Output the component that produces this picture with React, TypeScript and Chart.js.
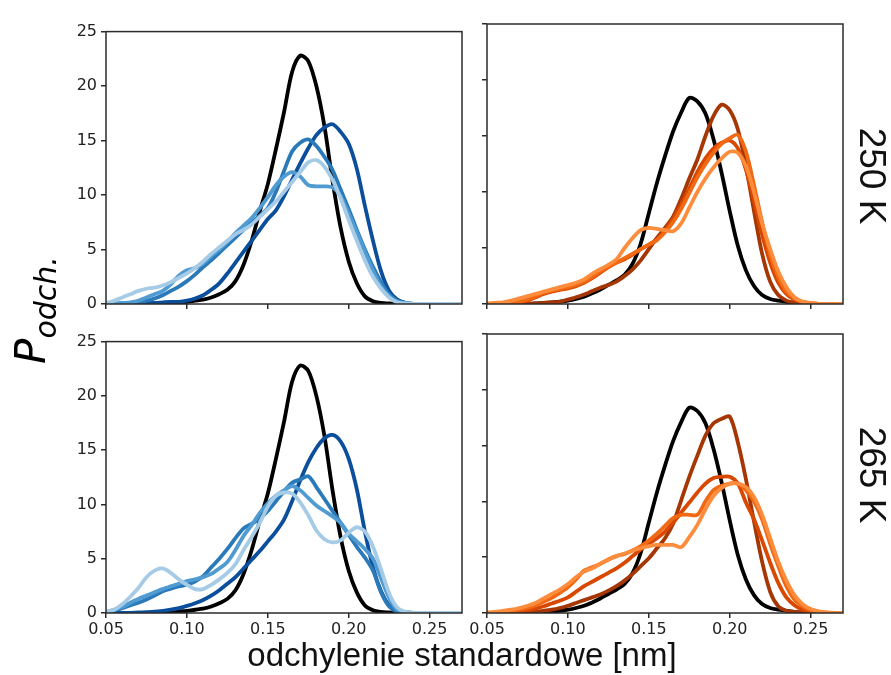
import React, { useEffect, useRef } from "react";
import { Chart, registerables } from "chart.js";

Chart.register(...registerables);

// x grid (standard deviation, nm)
const X_NM = [
  0.050, 0.055, 0.060, 0.065, 0.070, 0.075, 0.080, 0.085, 0.090, 0.095,
  0.100, 0.105, 0.110, 0.115, 0.120, 0.125, 0.130, 0.135, 0.140, 0.145,
  0.150, 0.155, 0.160, 0.165, 0.170, 0.175, 0.180, 0.185, 0.190, 0.195,
  0.200, 0.205, 0.210, 0.215, 0.220, 0.225, 0.230, 0.235, 0.240, 0.245,
  0.250, 0.255, 0.260, 0.265, 0.270,
];

const X_TICKS = [0.05, 0.1, 0.15, 0.2, 0.25];
const Y_TICKS = [0, 5, 10, 15, 20, 25];
const ROW_LABELS = ["250 K", "265 K"];
const X_TITLE = "odchylenie standardowe [nm]";

// reference (black) curves
const blackLeft = [
  0, 0, 0, 0, 0, 0, 0, 0.05, 0.1, 0.15,
  0.2, 0.3, 0.4, 0.6, 0.9, 1.3, 2.1, 3.6, 5.8, 8.5,
  11.0, 14.2, 17.6, 21.3, 22.8, 22.3, 20.0, 16.3, 11.3, 7.0,
  3.9, 1.9, 0.7, 0.25, 0.1, 0.05, 0, 0, 0, 0,
  0, 0, 0, 0, 0,
];
const blackRight = [
  0, 0, 0, 0, 0, 0.02, 0.05, 0.1, 0.15, 0.2,
  0.3, 0.45, 0.65, 0.95, 1.3, 1.7, 2.1, 2.6, 3.6, 5.4,
  8.1, 10.8, 13.2, 15.4, 17.1, 18.4, 18.1, 17.0, 14.7, 11.7,
  8.3, 5.2, 3.0, 1.6, 0.8, 0.45, 0.3, 0.2, 0.1, 0.05,
  0, 0, 0, 0, 0,
];

// 250 K, blue series (dark -> light)
const blue250a = [
  0, 0, 0, 0, 0.05, 0.1, 0.1, 0.15, 0.2, 0.2,
  0.3, 0.5, 0.8, 1.3, 1.9, 2.8, 3.8, 4.8, 5.8, 6.8,
  7.8, 8.6, 9.9, 11.4, 12.9, 14.3, 15.5, 16.2, 16.5, 15.8,
  14.7, 12.4, 9.0, 5.8, 3.0, 1.2, 0.4, 0.1, 0, 0,
  0, 0, 0, 0, 0,
];
const blue250b = [
  0, 0, 0.05, 0.1, 0.2, 0.3, 0.5, 0.8, 1.2, 1.6,
  2.1, 2.7, 3.4, 4.0, 4.7, 5.4, 6.1, 6.8, 7.5, 8.1,
  8.8, 10.3, 12.2, 14.0, 14.8, 15.1, 14.5, 13.5, 12.3, 10.5,
  8.7, 6.8, 5.0, 3.4, 2.0, 0.9, 0.3, 0.1, 0, 0,
  0, 0, 0, 0, 0,
];
const blue250c = [
  0, 0.05, 0.1, 0.15, 0.3, 0.6, 0.9, 1.2, 1.8, 2.6,
  3.1, 3.3, 3.7, 4.4, 5.0, 5.7, 6.5, 7.2, 7.9, 8.8,
  9.8, 10.9, 11.7, 12.1, 11.7, 10.9, 10.8, 10.8, 10.7, 9.9,
  8.3, 6.6, 4.8, 3.1, 1.6, 0.7, 0.2, 0.05, 0, 0,
  0, 0, 0, 0, 0,
];
const blue250d = [
  0.1, 0.3, 0.6, 0.9, 1.2, 1.4, 1.5, 1.7, 2.0, 2.4,
  2.8, 3.3, 3.9, 4.6, 5.2, 5.8, 6.4, 6.8, 7.3, 8.0,
  8.7, 9.4, 10.3, 11.2, 12.1, 13.0, 13.2, 12.6, 11.4, 9.7,
  7.7, 5.8, 4.0, 2.5, 1.4, 0.6, 0.15, 0.05, 0, 0,
  0, 0, 0, 0, 0,
];

// 250 K, orange series (dark -> light)
const orange250a = [
  0, 0, 0, 0, 0, 0.02, 0.05, 0.1, 0.15, 0.2,
  0.4, 0.6, 0.85, 1.15, 1.45, 1.7, 2.0, 2.5, 3.1, 3.9,
  4.9, 5.9, 6.8, 7.8, 9.4, 11.2, 12.9, 15.0, 16.8, 17.8,
  17.3, 15.6, 12.3, 8.3, 4.5, 2.0, 0.8, 0.3, 0.1, 0.05,
  0, 0, 0, 0, 0,
];
const orange250b = [
  0, 0, 0.02, 0.05, 0.1, 0.3, 0.6, 0.9, 1.1, 1.25,
  1.4, 1.6, 1.9, 2.3, 2.8, 3.3, 3.7, 4.0, 4.4, 4.9,
  5.3, 5.8, 6.6, 7.6, 8.9, 10.3, 11.8, 13.0, 13.9, 14.4,
  14.6, 13.9, 12.0, 9.2, 6.2, 3.7, 1.9, 0.9, 0.4, 0.15,
  0.05, 0, 0, 0, 0,
];
const orange250c = [
  0, 0.02, 0.05, 0.1, 0.2, 0.4, 0.7, 1.0, 1.2, 1.35,
  1.5, 1.7, 2.0, 2.4, 2.9, 3.3, 3.7, 4.1, 4.5, 4.9,
  5.3, 5.7, 6.4, 7.3, 8.5, 9.9, 11.3, 12.5, 13.5, 14.3,
  14.8, 15.1, 13.6, 10.6, 7.3, 4.4, 2.4, 1.1, 0.5, 0.2,
  0.08, 0.02, 0, 0, 0,
];
const orange250d = [
  0.05, 0.1, 0.15, 0.3, 0.5, 0.7, 0.9, 1.1, 1.3, 1.5,
  1.7, 1.9, 2.2, 2.7, 3.1, 3.5, 4.0, 5.0, 5.9, 6.6,
  6.8, 6.7, 6.6, 6.5, 7.2, 8.6, 10.0, 11.2, 12.2, 13.0,
  13.6, 13.5, 12.3, 10.0, 7.2, 4.9, 2.9, 1.5, 0.6, 0.2,
  0.08, 0.02, 0, 0, 0,
];

// 265 K, blue series (dark -> light)
const blue265a = [
  0, 0, 0, 0.02, 0.05, 0.08, 0.12, 0.2, 0.3, 0.45,
  0.65, 0.9, 1.2, 1.6, 2.1, 2.7, 3.3, 4.1, 4.9, 5.7,
  6.6, 7.5, 8.6, 10.3, 12.2, 13.9, 15.2, 16.1, 16.4, 15.8,
  14.2, 11.4, 7.5, 4.2, 2.0, 0.7, 0.15, 0.05, 0, 0,
  0, 0, 0, 0, 0,
];
const blue265b = [
  0.05, 0.25, 0.45, 0.7, 0.95, 1.25, 1.6, 2.0, 2.25, 2.45,
  2.6, 2.9, 3.4, 4.2, 5.0, 5.9, 6.9, 7.8, 8.2, 8.7,
  9.4, 10.3, 11.2, 12.0, 12.3, 12.6, 11.6, 10.5, 9.4, 8.3,
  7.2, 6.1, 5.1, 3.9, 1.9, 0.6, 0.15, 0.05, 0, 0,
  0, 0, 0, 0, 0,
];
const blue265c = [
  0.1, 0.3, 0.55, 0.95, 1.3, 1.6, 1.9, 2.2, 2.45, 2.7,
  2.95, 3.1, 3.3, 3.6, 4.1, 4.7, 5.8, 7.1, 8.1, 9.2,
  10.1, 10.8, 11.3, 11.7, 11.3, 10.6, 9.9, 9.4, 8.9, 8.3,
  7.3, 6.6, 5.9, 5.0, 3.2, 1.4, 0.3, 0.05, 0, 0,
  0, 0, 0, 0, 0,
];
const blue265d = [
  0.1, 0.3, 0.8, 1.5, 2.3, 3.3, 3.9, 4.1, 3.7, 3.1,
  2.6, 2.2, 2.2, 2.6, 3.1, 3.7, 4.5, 5.8, 7.0, 8.3,
  9.8, 10.8, 11.1, 11.0, 10.2, 9.0, 7.6, 6.8, 6.5, 6.7,
  7.4, 7.9, 7.5, 6.1, 4.0, 1.8, 0.5, 0.1, 0, 0,
  0, 0, 0, 0, 0,
];

// 265 K, orange series (dark -> light)
const orange265a = [
  0, 0, 0, 0.02, 0.05, 0.08, 0.12, 0.2, 0.3, 0.45,
  0.65, 0.9, 1.15, 1.4, 1.65, 2.0, 2.4, 2.9, 3.5, 4.2,
  4.9, 5.8, 6.7, 8.0, 10.1, 12.2, 14.1, 15.9, 17.0, 17.4,
  17.6, 15.3, 12.0, 8.2, 4.6, 1.9, 0.6, 0.2, 0.1, 0.05,
  0, 0, 0, 0, 0,
];
const orange265b = [
  0, 0.02, 0.05, 0.1, 0.15, 0.25, 0.4, 0.6, 0.85, 1.1,
  1.4, 1.9, 2.4, 2.8, 3.2, 3.6, 4.0, 4.5, 5.1, 5.7,
  6.2, 6.7, 7.3, 8.1, 9.0, 9.9, 10.8, 11.6, 12.1, 12.2,
  12.2, 11.6, 9.9, 8.4, 6.5, 4.5, 2.7, 1.4, 0.7, 0.3,
  0.12, 0.05, 0, 0, 0,
];
const orange265c = [
  0, 0.05, 0.1, 0.2, 0.3, 0.45, 0.7, 1.0, 1.35, 1.8,
  2.3, 3.0, 3.8, 4.1, 4.4, 4.8, 5.1, 5.3, 5.6, 6.0,
  6.5, 7.1, 7.8, 8.5, 8.8, 8.8, 8.8, 10.0, 11.0, 11.4,
  11.6, 11.6, 11.0, 10.0, 8.4, 6.2, 4.2, 2.4, 1.2, 0.6,
  0.25, 0.1, 0.03, 0, 0,
];
const orange265d = [
  0.05, 0.1, 0.2, 0.3, 0.45, 0.65, 0.9, 1.3, 1.7, 2.1,
  2.6, 3.2, 3.7, 4.0, 4.4, 4.8, 5.1, 5.3, 5.6, 5.8,
  6.0, 6.1, 6.1, 6.1, 5.9, 6.8, 7.9, 9.3, 10.5, 11.2,
  11.6, 11.6, 11.3, 10.4, 8.8, 6.7, 4.6, 2.9, 1.6, 0.8,
  0.35, 0.15, 0.05, 0, 0,
];

const BLUES = ["#0b4f9c", "#2a7aba", "#4f9bd2", "#a6cbe6"];
const ORANGES = ["#a63603", "#d94801", "#f16913", "#fd8d3c"];

type PanelSpec = {
  key: string;
  left: number; // chart area left (page px)
  top: number; // chart area top
  w: number;
  h: number;
  black: number[];
  series: number[][];
  colors: string[];
  showY: boolean;
  showX: boolean;
};

const PAD_L = 50;
const PAD_B = 36;
const PAD_T = 6;
const PAD_R = 6;

const PANELS: PanelSpec[] = [
  { key: "tl", left: 106, top: 24, w: 356, h: 280, black: blackLeft, series: [blue250a, blue250b, blue250c, blue250d], colors: BLUES, showY: true, showX: false },
  { key: "tr", left: 487, top: 24, w: 356, h: 280, black: blackRight, series: [orange250a, orange250b, orange250c, orange250d], colors: ORANGES, showY: false, showX: false },
  { key: "bl", left: 106, top: 334, w: 356, h: 279, black: blackLeft, series: [blue265a, blue265b, blue265c, blue265d], colors: BLUES, showY: true, showX: true },
  { key: "br", left: 487, top: 334, w: 356, h: 279, black: blackRight, series: [orange265a, orange265b, orange265c, orange265d], colors: ORANGES, showY: false, showX: true },
];

const framePlugin = {
  id: "frame",
  afterDraw(chart: any) {
    const { ctx, chartArea } = chart;
    ctx.save();
    ctx.strokeStyle = "#2b2b2b";
    ctx.lineWidth = 1.5;
    ctx.strokeRect(chartArea.left, chartArea.top, chartArea.right - chartArea.left, chartArea.bottom - chartArea.top);
    ctx.restore();
  },
};

function Panel({ spec }: { spec: PanelSpec }) {
  const ref = useRef<HTMLCanvasElement | null>(null);
  const cw = PAD_L + spec.w + PAD_R;
  const ch = PAD_T + spec.h + PAD_B;
  useEffect(() => {
    if (!ref.current) return;
    const toPts = (arr: number[]) => arr.map((y, i) => ({ x: X_NM[i], y }));
    const datasets: any[] = [];
    spec.series.forEach((s, i) => {
      datasets.push({
        data: toPts(s),
        borderColor: spec.colors[i],
        borderWidth: 3.8,
        pointRadius: 0,
        fill: false,
        tension: 0.3,
        order: 4 - i,
      });
    });
    datasets.push({
      data: toPts(spec.black),
      borderColor: "#000000",
      borderWidth: 3.8,
      pointRadius: 0,
      fill: false,
      tension: 0.3,
      order: 5,
    });
    const tickFont = { family: "'DejaVu Sans', sans-serif", size: 16 };
    const chart = new Chart(ref.current, {
      type: "line",
      data: { datasets },
      plugins: [framePlugin],
      options: {
        responsive: false,
        animation: false,
        devicePixelRatio: 1,
        layout: { padding: { top: PAD_T, right: PAD_R, left: 0, bottom: 0 } },
        plugins: { legend: { display: false }, tooltip: { enabled: false } },
        scales: {
          x: {
            type: "linear",
            min: 0.05,
            max: 0.27,
            afterBuildTicks: (s: any) => {
              s.ticks = X_TICKS.map((v) => ({ value: v }));
            },
            afterFit: (s: any) => {
              s.height = PAD_B;
            },
            ticks: {
              display: spec.showX,
              autoSkip: false,
              maxRotation: 0,
              padding: 2,
              color: "#222",
              font: tickFont,
              callback: (v: any) => Number(v).toFixed(2),
            },
            grid: { drawOnChartArea: false, drawTicks: true, tickLength: 5, color: "#2b2b2b", lineWidth: 1.5 },
            border: { display: false },
          },
          y: {
            type: "linear",
            min: 0,
            max: 25,
            afterBuildTicks: (s: any) => {
              s.ticks = Y_TICKS.map((v) => ({ value: v }));
            },
            afterFit: (s: any) => {
              s.width = PAD_L;
            },
            ticks: {
              display: spec.showY,
              padding: 4,
              color: "#222",
              font: tickFont,
              callback: (v: any) => String(v),
            },
            grid: { drawOnChartArea: false, drawTicks: true, tickLength: 5, color: "#2b2b2b", lineWidth: 1.5 },
            border: { display: false },
          },
        },
      } as any,
    });
    return () => chart.destroy();
  }, [spec]);
  return (
    <canvas
      ref={ref}
      width={cw}
      height={ch}
      style={{
        position: "absolute",
        left: spec.left - PAD_L,
        top: spec.top - PAD_T,
        width: cw,
        height: ch,
      }}
    />
  );
}

export default function App() {
  return (
    <div
      style={{
        position: "fixed",
        left: 0,
        top: 0,
        width: 891,
        height: 675,
        background: "#ffffff",
        overflow: "hidden",
      }}
    >
      {PANELS.map((p) => (
        <Panel key={p.key} spec={p} />
      ))}
      {/* y-axis title */}
      <div
        style={{
          position: "absolute",
          left: 31 - 70,
          top: 310 - 30,
          width: 140,
          height: 60,
          lineHeight: "60px",
          textAlign: "center",
          whiteSpace: "nowrap",
          transform: "rotate(-90deg)",
          fontFamily: "'DejaVu Sans', sans-serif",
          fontStyle: "italic",
          color: "#000",
        }}
      >
        <span style={{ fontSize: 42 }}>P</span>
        <span style={{ fontSize: 30, position: "relative", top: 11 }}>odch.</span>
      </div>
      {/* x-axis title */}
      <div
        style={{
          position: "absolute",
          left: 162,
          top: 638,
          width: 600,
          textAlign: "center",
          fontFamily: "'Liberation Sans', Arial, sans-serif",
          fontSize: 33,
          lineHeight: "33px",
          color: "#111",
          whiteSpace: "nowrap",
        }}
      >
        {X_TITLE}
      </div>
      {/* row labels */}
      {ROW_LABELS.map((t, i) => (
        <div
          key={t}
          style={{
            position: "absolute",
            left: 872 - 80,
            top: (i === 0 ? 176 : 475) - 20,
            width: 160,
            height: 40,
            lineHeight: "40px",
            textAlign: "center",
            transform: "rotate(90deg)",
            fontFamily: "'Liberation Sans', Arial, sans-serif",
            fontSize: 37,
            color: "#111",
            whiteSpace: "nowrap",
          }}
        >
          {t}
        </div>
      ))}
    </div>
  );
}
